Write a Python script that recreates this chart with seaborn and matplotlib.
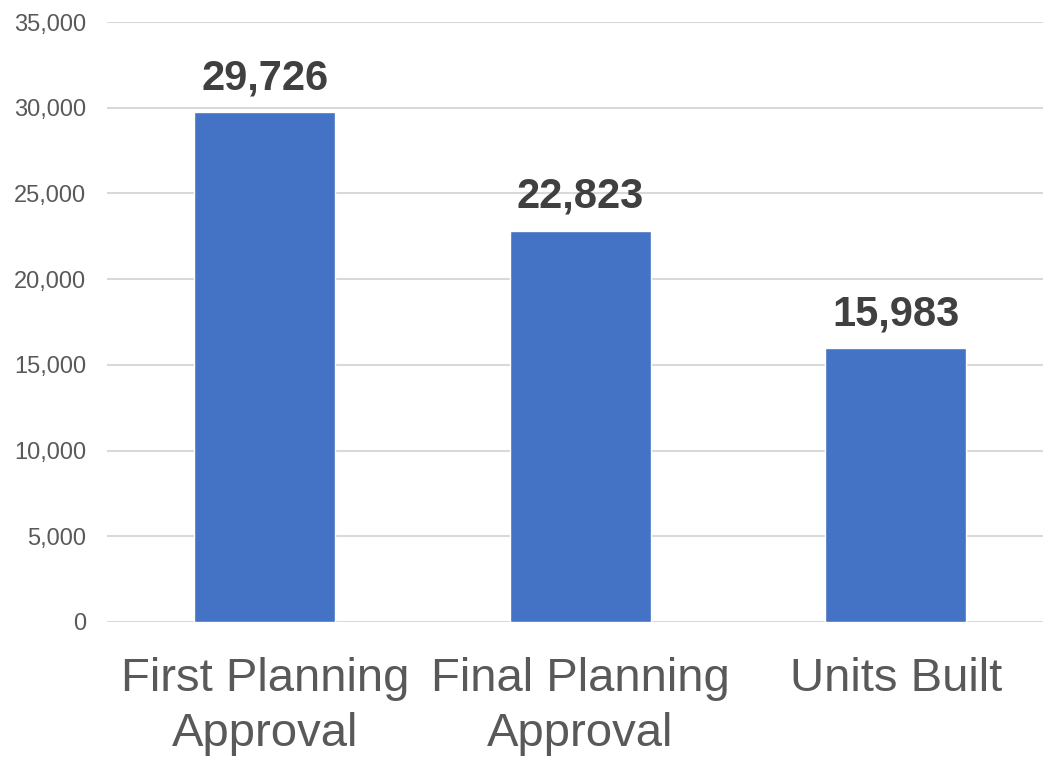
import matplotlib
matplotlib.use("Agg")
import matplotlib.pyplot as plt
import seaborn as sns
import pandas as pd
from matplotlib.ticker import FuncFormatter

categories = ["First Planning\nApproval", "Final Planning\nApproval", "Units Built"]
values = [29726, 22823, 15983]
y_ticks = [0, 5000, 10000, 15000, 20000, 25000, 30000, 35000]

sns.set_theme(style="white")
plt.rcParams['font.family'] = ['Liberation Sans', 'DejaVu Sans']

df = pd.DataFrame({"cat": categories, "val": values})

fig = plt.figure(figsize=(10.43, 7.59), dpi=100)
ax = fig.add_axes([107/1043, 1 - 622/759, 1 - 107/1043, (622 - 22)/759])

sns.barplot(data=df, x="cat", y="val", color="#4472C4", saturation=1, width=0.447, ax=ax, zorder=3)

ax.set_ylim(0, 35000)
ax.set_xlim(-0.5, 2.466)
ax.set_yticks(y_ticks)
ax.yaxis.set_major_formatter(FuncFormatter(lambda v, p: f"{int(v):,}"))
ax.grid(axis="y", color="#D9D9D9", linewidth=1.5, zorder=0)
ax.set_axisbelow(True)
for s in ax.spines.values():
    s.set_visible(False)
ax.tick_params(axis="y", length=0, pad=15, labelsize=17, labelcolor="#595959")
ax.tick_params(axis="x", length=0, pad=25, labelsize=34, labelcolor="#595959")
for lbl in ax.get_xticklabels():
    lbl.set_linespacing(1.32)
ax.set_xlabel("")
ax.set_ylabel("")

for i, v in enumerate(values):
    ax.annotate(f"{v:,}", (i, v), xytext=(0, 10), textcoords="offset points",
                ha="center", va="bottom", fontsize=30, fontweight="bold", color="#404040")

fig.savefig("out.png", dpi=100)
